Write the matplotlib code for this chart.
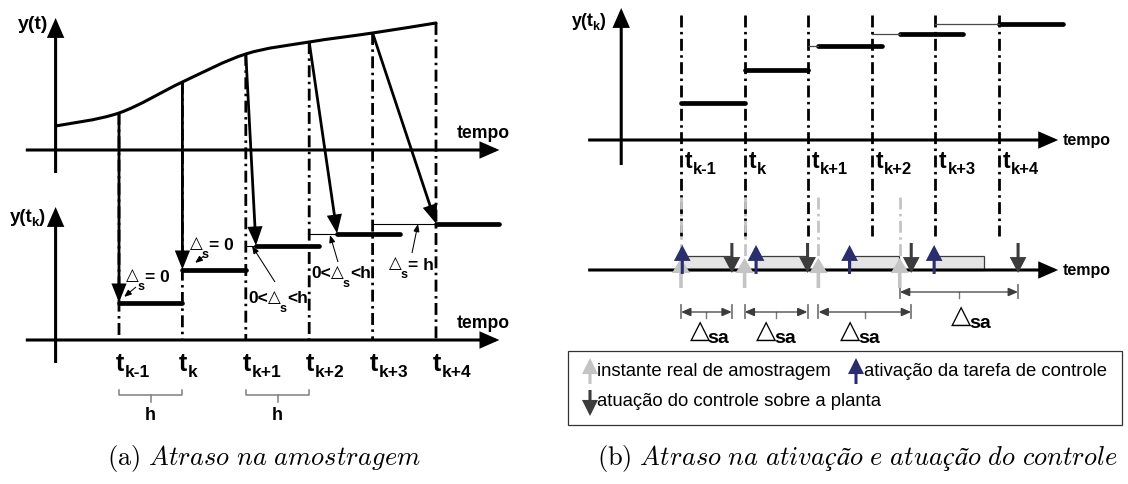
import numpy as np
import matplotlib
matplotlib.use("Agg")
import matplotlib.pyplot as plt
from matplotlib.patches import ConnectionPatch, Rectangle, PathPatch, ArrowStyle
from matplotlib.path import Path
from matplotlib.transforms import Affine2D, blended_transform_factory

plt.rcParams['font.family'] = ['Liberation Sans', 'DejaVu Sans']
plt.rcParams['mathtext.fontset'] = 'cm'
plt.rcParams['lines.scale_dashes'] = False

W, H, DPI = 1128, 484, 100

# ---------------- data ----------------
k_subs = ['k-1', 'k', 'k+1', 'k+2', 'k+3', 'k+4']
t_k = np.arange(6.0)                                   # sampling instants, in units of h
t_curve = np.array([-1.0, 0.0, 1.0, 2.0, 3.0, 4.0, 5.0])
y_curve = np.array([2.4, 3.7, 6.8, 9.6, 10.8, 11.7, 12.7])
y_held = np.array([3.75, 7.05, 9.45, 10.65, 11.65])     # value held after each sample
delta_s = np.array([0.0, 0.0, 0.16, 0.44, 1.0])        # sampling delay (units of h)
t_activation = np.array([0.02, 1.18, 2.65, 3.98])      # control task release
exec_time = np.array([0.78, 0.78, 0.78, 0.78])         # control task execution
t_actuation = np.array([0.80, 1.99, 3.62, 5.30])       # control output applied

BLACK = 'black'
NAVY = '#2b2e6c'
LIGHT = '#c4c4c4'
DARK = '#3c3c3c'
DASHDOT = (0, (8.6, 3.2, 1.8, 3.2))

fig = plt.figure(figsize=(W / DPI, H / DPI), dpi=DPI)
PX = Affine2D().scale(1 / W, -1 / H).translate(0, 1) + fig.transFigure


def add_panel(box, x0, xu, y0, yu):
    l, t, r, b = box
    ax = fig.add_axes([l / W, 1 - b / H, (r - l) / W, (b - t) / H])
    ax.set_xlim((l - x0) / xu, (r - x0) / xu)
    ax.set_ylim((y0 - b) / yu, (y0 - t) / yu)
    ax.set_axis_off()
    return ax


def connect(a, b, ca, cb=None, color=BLACK, lw=2.2, hl=None, hw=None, ls='-', both=False):
    if hl is None:
        style = '-'
    else:
        style = ArrowStyle('<|-|>' if both else '-|>', head_length=hl, head_width=hw)
    con = ConnectionPatch(xyA=a, coordsA=ca, xyB=b, coordsB=cb or ca,
                          arrowstyle=style, mutation_scale=1, lw=lw, color=color,
                          shrinkA=0, shrinkB=0, linestyle=ls, capstyle='butt',
                          joinstyle='miter', annotation_clip=False)
    fig.add_artist(con)
    return con


def chain(ax, x, y, trans, parts, color=BLACK):
    """Draw a row of text pieces; each piece is (text, size, weight, family, dx, dy, anchor).

    The piece starts at the right edge of the previous one; its bottom follows the
    previous piece ('prev') or the first piece ('base')."""
    text, size, weight, fam = parts[0][:4]
    prev = ax.text(x, y, text, transform=trans, fontsize=size, fontweight=weight,
                   family=fam, ha='left', va='baseline', color=color)
    first = prev
    for text, size, weight, fam, dx, dy, anchor in parts[1:]:
        ref = first if anchor == 'base' else prev
        prev = ax.annotate(text, xy=(1, 0), xycoords=(prev, ref), xytext=(dx, dy),
                           textcoords='offset points', fontsize=size, fontweight=weight,
                           family=fam, ha='left', va='bottom', color=color,
                           annotation_clip=False)
    return first


def smooth_path(x, y):
    pts = np.column_stack([x, y])
    n = len(pts)
    verts, codes = [pts[0]], [Path.MOVETO]
    for i in range(n - 1):
        p0, p1 = pts[max(i - 1, 0)], pts[i]
        p2, p3 = pts[i + 1], pts[min(i + 2, n - 1)]
        verts += [p1 + (p2 - p0) / 6, p2 - (p3 - p1) / 6, p2]
        codes += [Path.CURVE4] * 3
    return Path(verts, codes)


SANS = ['Liberation Sans', 'DejaVu Sans']
TRI = ['DejaVu Sans']

# ================= (a) sampling delay =================
axA = add_panel((0, 0, 560, 185), 119, 63.4, 150, 10)
axB = add_panel((0, 185, 560, 430), 119, 63.4, 340, 10)

for ax, (ytop, ybot) in ((axA, (13.2, -2.3)), (axB, (13.3, -2.3))):
    connect((-1, ybot), (-1, ytop), ax.transData, hl=10.5, hw=4.6)
    connect((-1.47, 0), (6.0, 0), ax.transData, hl=10.5, hw=4.6)

axA.text(457, 133, 'tempo', transform=PX, fontsize=12.7, fontweight='bold', va='center')
axB.text(457, 324, 'tempo', transform=PX, fontsize=12.7, fontweight='bold', va='center')
chain(axA, 18, 29, PX, [('y(t)', 14, 'bold', SANS)])
chain(axB, 10, 222, PX, [('y(t', 13.5, 'bold', SANS),
                         ('k', 9.5, 'bold', SANS, -1, -2.5, 'prev'),
                         (')', 13.5, 'bold', SANS, 0, 0, 'base')])

# continuous signal
axA.add_patch(PathPatch(smooth_path(t_curve, y_curve), fill=False, lw=2.2,
                        ec=BLACK, capstyle='round', clip_on=False))
y_at_tk = y_curve[1:]

# dash-dot guides at the sampling instants
for tk, yc in zip(t_k, y_at_tk):
    connect((tk, yc), (tk, 0), axA.transData, axB.transData, lw=2.0, ls=DASHDOT)

# held values and sampling arrows
for k in range(len(y_held)):
    s = t_k[k] + delta_s[k]
    axB.plot([s, s + 1], [y_held[k]] * 2, color=BLACK, lw=3.4,
             solid_capstyle='round', clip_on=False)
    if delta_s[k] > 0:
        axB.plot([t_k[k], s], [y_held[k]] * 2, color=BLACK, lw=0.8, clip_on=False)
    connect((t_k[k], y_at_tk[k]), (s, y_held[k]), axA.transData, axB.transData,
            lw=2.0, hl=10, hw=4.0)

# tick labels
blendB = blended_transform_factory(axB.transData, PX)
for tk, sub in zip(t_k, k_subs):
    chain(axB, tk - 0.05, 371, blendB, [('t', 18, 'bold', SANS),
                                       (sub, 12.5, 'bold', SANS, 0.5, -3, 'prev')])

# period brackets
for i0 in (0, 2):
    xs = [t_k[i0], t_k[i0], t_k[i0 + 1], t_k[i0 + 1]]
    axB.plot(xs, [390, 395, 395, 390], transform=blendB, color='#808080', lw=1.1, clip_on=False)
    mid = (t_k[i0] + t_k[i0 + 1]) / 2
    axB.plot([mid, mid], [395, 402], transform=blendB, color='#808080', lw=1.1, clip_on=False)
    axB.text(mid, 415, 'h', transform=blendB, fontsize=13, fontweight='bold',
             ha='center', va='center')

# delay annotations
delay_marks = [
    dict(pos=(126, 280), kind='eq', txt='= 0', tail=(136, 287), tip=(124, 297)),
    dict(pos=(190, 248), kind='eq', txt='= 0', tail=(204, 256), tip=(195, 263)),
    dict(pos=(248, 303), kind='lt', txt='<h', tail=(275, 282), tip=(252, 246)),
    dict(pos=(311, 278), kind='lt', txt='<h', tail=(338, 262), tip=(330, 235)),
    dict(pos=(389, 268), kind='eq', txt='= h', tail=(412, 253), tip=(418, 224)),
]
for m in delay_marks:
    x, y = m['pos']
    head = [] if m['kind'] == 'eq' else [('0<', 12.5, 'bold', SANS)]
    tri = ('△', 12, 'normal', TRI) if not head else ('△', 12, 'normal', TRI, 0.3, 0, 'prev')
    parts = head + [tri,
                    ('s', 9, 'bold', SANS, -0.8, -6.5, 'prev'),
                    (m['txt'], 12.5, 'bold', SANS, 0.2, -1.0 if not head else 0, 'base')]
    chain(axB, x, y, PX, parts)
    connect(m['tail'], m['tip'], PX, lw=0.75, hl=4.5, hw=1.8)

# ================= (b) activation and actuation delay =================
axC = add_panel((560, 0, 1128, 200), 681, 63.6, 140, 10)
axD = add_panel((560, 200, 1128, 430), 681, 63.6, 270, 10)

connect((-0.94, -2.5), (-0.94, 13.2), axC.transData, hl=10.5, hw=4.6)
connect((-1.46, 0), (5.93, 0), axC.transData, hl=10.5, hw=4.6)
connect((-1.46, 0), (5.93, 0), axD.transData, hl=10.5, hw=4.6)
axC.text(1063, 141, 'tempo', transform=PX, fontsize=11.5, fontweight='bold', va='center')
axD.text(1063, 271, 'tempo', transform=PX, fontsize=11.5, fontweight='bold', va='center')
chain(axC, 572, 26, PX, [('y(t', 13, 'bold', SANS),
                         ('k', 9, 'bold', SANS, -1, -2.5, 'prev'),
                         (')', 13, 'bold', SANS, 0, 0, 'base')])

blendC = blended_transform_factory(axC.transData, PX)
blendD = blended_transform_factory(axD.transData, PX)

# nominal sampling instants
for tk in t_k:
    axC.plot([tk, tk], [15, 236], transform=blendC, color=BLACK, lw=2.0,
             linestyle=DASHDOT, clip_on=False)

# held output
for k in range(len(y_held)):
    s = t_k[k] + delta_s[k]
    axC.plot([s, s + 1], [y_held[k]] * 2, color=BLACK, lw=3.4,
             solid_capstyle='round', clip_on=False)
    if delta_s[k] > 0:
        axC.plot([t_k[k], s], [y_held[k]] * 2, color='#4a4a4a', lw=0.9, clip_on=False)

for tk, sub in zip(t_k, k_subs):
    chain(axC, tk + 0.06, 168, blendC, [('t', 16.5, 'bold', SANS),
                                       (sub, 12, 'bold', SANS, 0.5, -3, 'prev')])

# real sampling instants
t_real = t_k[:4] + delta_s[:4]
for s in t_real:
    axD.plot([s, s], [197, 258], transform=blendD, color=LIGHT, lw=2.0,
             linestyle=DASHDOT, clip_on=False)

# control task execution boxes
for a, e in zip(t_activation, exec_time):
    axD.add_patch(Rectangle((a, 0), e, 1.4, fc='#e4e4e4', ec=DARK, lw=0.9, clip_on=False))

for s in t_real:
    connect((s, -1.8), (s, 1.2), axD.transData, color=LIGHT, lw=2.6, hl=7, hw=4.2)
for a in t_activation:
    connect((a, -0.4), (a, 2.5), axD.transData, color=NAVY, lw=2.2, hl=8, hw=4.2)
for u in t_actuation:
    connect((u, 2.7), (u, -0.3), axD.transData, color=DARK, lw=2.2, hl=8, hw=4.2)

# sampling-to-actuation intervals
label_shift = [5, 2, -3, 14]
for i, (s, u) in enumerate(zip(t_real, t_actuation)):
    ypx = 292 if i == 3 else 312
    connect((s, ypx), (u, ypx), blendD, color=DARK, lw=0.9, hl=6, hw=2.6, both=True)
    for xe in (s, u):
        axD.plot([xe, xe], [ypx - 7, ypx + 6], transform=blendD, color='#7a7a7a', lw=1.3,
                 clip_on=False)
    mid = (s + u) / 2
    axD.plot([mid, mid], [ypx, ypx + 6], transform=blendD, color='#7a7a7a', lw=1.0,
             clip_on=False)
    xpx = axD.transData.transform((mid, 0))[0] + label_shift[i] - 22
    ybase = 338 if i != 3 else 323
    chain(axD, xpx, ybase, PX, [('△', 19, 'normal', TRI),
                                ('sa', 14, 'bold', SANS, -1.5, -2.5, 'prev')])

# key
fig.add_artist(Rectangle((568, 351), 554, 74, transform=PX, fill=False, ec='#333333', lw=0.9))
key = [((590, 384), (590, 358), LIGHT, (597, 371), 'instante real de amostragem'),
       ((856, 384), (856, 358), NAVY, (864, 371), 'ativação da tarefa de controle'),
       ((590, 390), (590, 416), DARK, (597, 402), 'atuação do controle sobre a planta')]
for tail, tip, col, tpos, label in key:
    connect(tail, tip, PX, color=col, lw=2.2, hl=8, hw=4.0)
    fig.text(tpos[0], tpos[1], label, transform=PX, fontsize=13.3, va='center', ha='left')

# captions
fig.text(264, 459, r'$\mathrm{(a)}\ \mathit{Atraso\ na\ amostragem}$', transform=PX,
         fontsize=19, ha='center', va='center')
fig.text(857, 459, r'$\mathrm{(b)}\ \mathit{Atraso\ na\ ativação\ e\ atuação\ do\ controle}$',
         transform=PX, fontsize=19, ha='center', va='center')

fig.savefig('out.png', dpi=DPI)
